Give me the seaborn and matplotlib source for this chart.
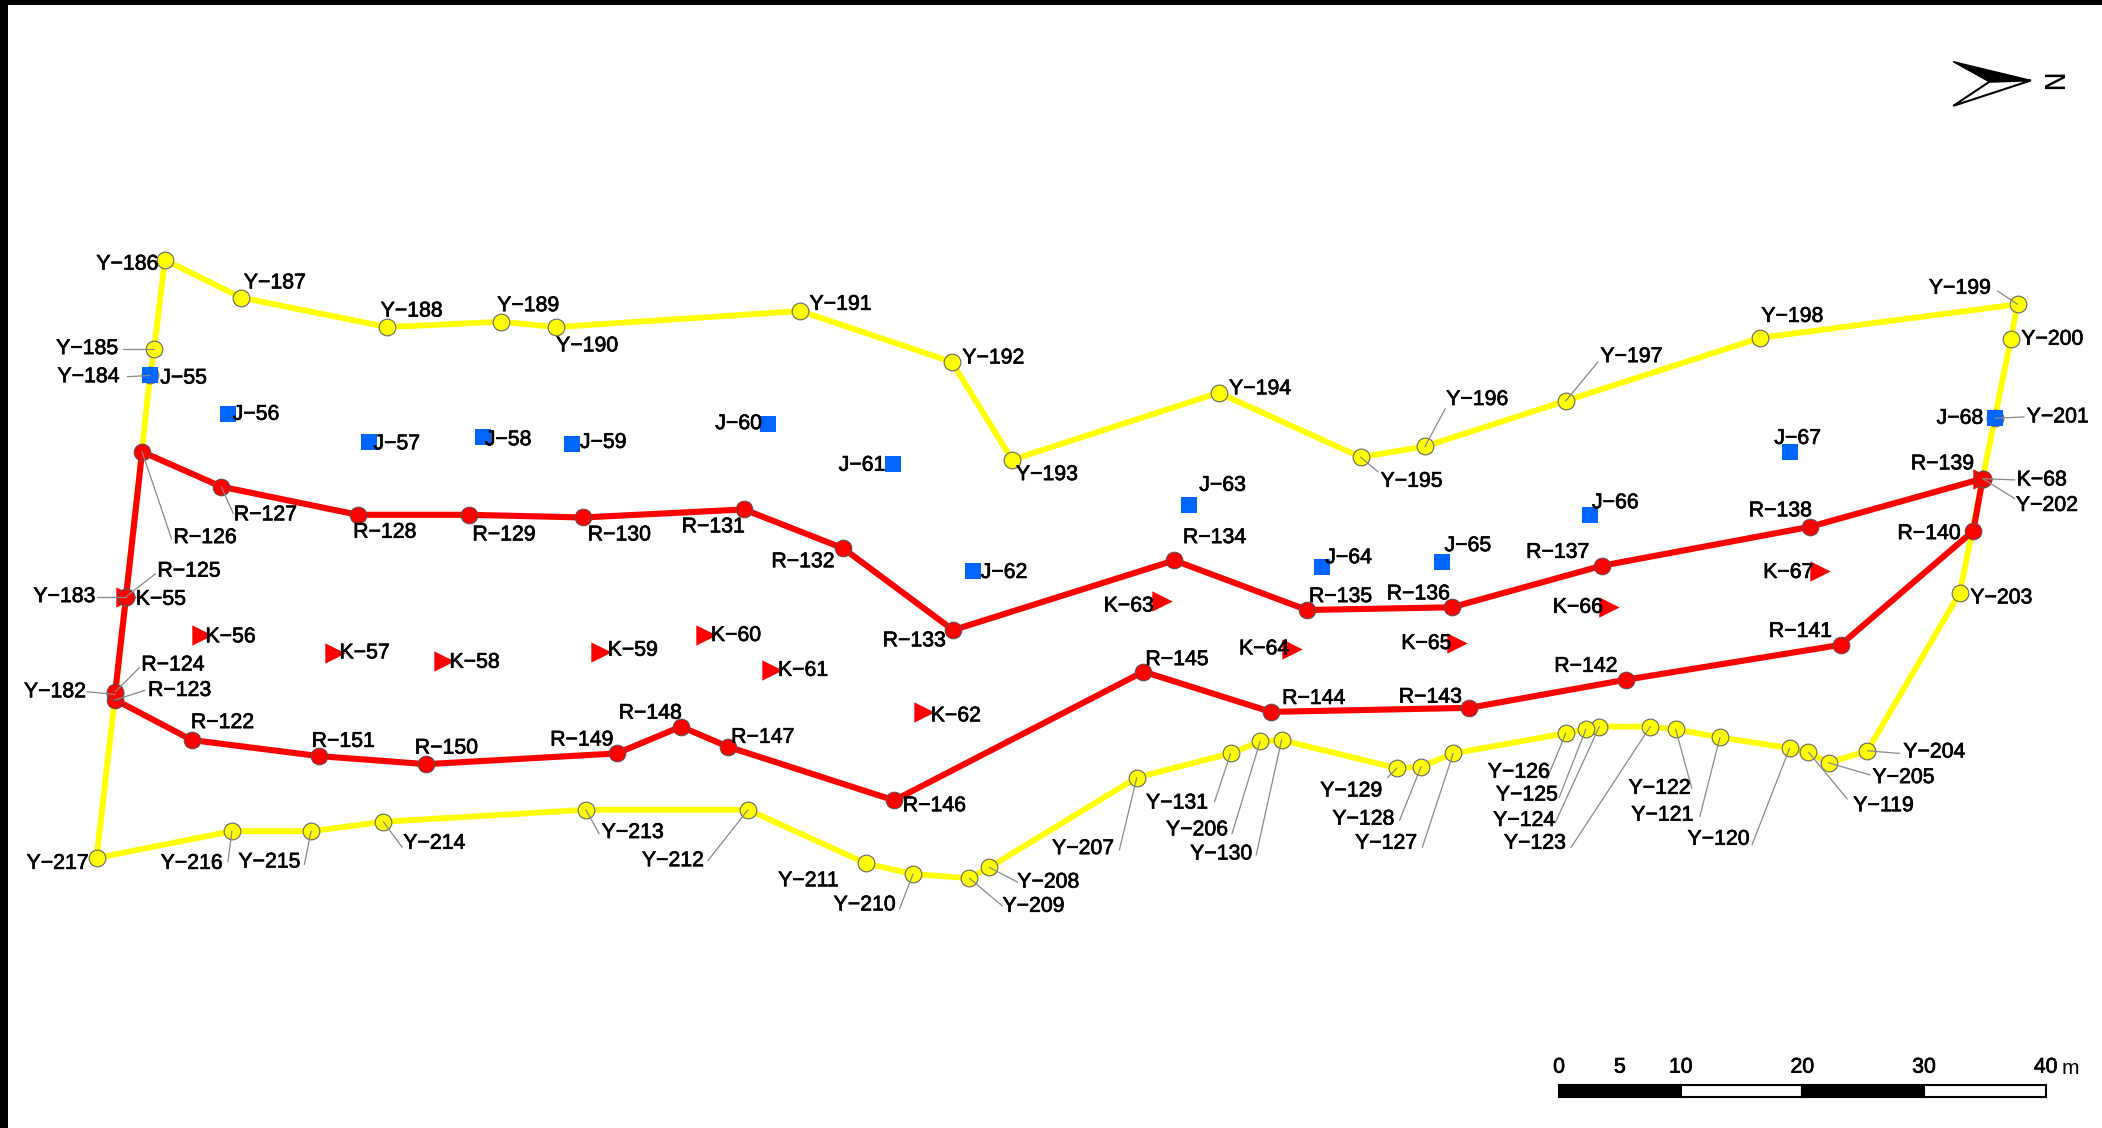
import matplotlib
matplotlib.use('Agg')
import matplotlib.pyplot as plt
import matplotlib.patheffects as pe
import pandas as pd
import seaborn as sns

# survey points, map units
y_names = ['Y-186', 'Y-187', 'Y-188', 'Y-189', 'Y-190', 'Y-191', 'Y-192', 'Y-193', 'Y-194', 'Y-195',
           'Y-196', 'Y-197', 'Y-198', 'Y-199', 'Y-200', 'Y-201', 'Y-202', 'Y-203', 'Y-204', 'Y-205',
           'Y-119', 'Y-120', 'Y-121', 'Y-122', 'Y-123', 'Y-124', 'Y-125', 'Y-126', 'Y-127', 'Y-128',
           'Y-129', 'Y-130', 'Y-206', 'Y-131', 'Y-207', 'Y-208', 'Y-209', 'Y-210', 'Y-211', 'Y-212',
           'Y-213', 'Y-214', 'Y-215', 'Y-216', 'Y-217', 'Y-182', 'Y-183', 'Y-184', 'Y-185']
y_east = [123, 180, 289, 374, 415, 597, 710, 755, 909, 1015,
          1063, 1168, 1313, 1505, 1500, 1488, 1479, 1462, 1393, 1364,
          1349, 1335, 1283, 1250, 1231, 1193, 1183, 1168, 1084, 1060,
          1042, 956, 940, 918, 848, 738, 723, 681, 646, 558,
          437, 286, 232, 173, 72, 86, 94, 112, 115]
y_north = [194, 222, 244, 240, 244, 232, 270, 343, 293, 341,
           333, 299, 252, 227, 253, 312, 357, 442, 560, 569,
           561, 558, 550, 544, 542, 542, 544, 547, 562, 572,
           573, 552, 553, 562, 580, 647, 655, 652, 644, 604,
           604, 613, 620, 620, 640, 518, 445, 280, 260]

r_names = ['R-126', 'R-127', 'R-128', 'R-129', 'R-130', 'R-131', 'R-132', 'R-133', 'R-134', 'R-135',
           'R-136', 'R-137', 'R-138', 'R-139', 'R-140', 'R-141', 'R-142', 'R-143', 'R-144', 'R-145',
           'R-146', 'R-147', 'R-148', 'R-149', 'R-150', 'R-151', 'R-122', 'R-123', 'R-124', 'R-125']
r_east = [106, 165, 267, 350, 435, 555, 629, 711, 876, 975,
          1083, 1195, 1350, 1479, 1472, 1373, 1213, 1096, 948, 853,
          667, 543, 508, 460, 318, 238, 143, 86, 86, 94]
r_north = [337, 363, 384, 384, 386, 380, 409, 470, 418, 455,
           453, 422, 393, 357, 396, 481, 507, 528, 531, 501,
           597, 557, 542, 562, 570, 564, 552, 522, 516, 445]

j_names = ['J-55', 'J-56', 'J-57', 'J-58', 'J-59', 'J-60', 'J-61', 'J-62', 'J-63', 'J-64', 'J-65', 'J-66', 'J-67', 'J-68']
j_east = [112, 170, 275, 360, 427, 573, 666, 726, 887, 986, 1076, 1186, 1335, 1488]
j_north = [280, 309, 330, 326, 331, 316, 346, 426, 377, 423, 419, 384, 337, 312]

k_names = ['K-55', 'K-56', 'K-57', 'K-58', 'K-59', 'K-60', 'K-61', 'K-62', 'K-63', 'K-64', 'K-65', 'K-66', 'K-67', 'K-68']
k_east = [94, 151, 250, 331, 448, 527, 576, 689, 867, 964, 1087, 1200, 1358, 1479]
k_north = [445, 474, 487, 493, 486, 474, 500, 531, 448, 484, 480, 453, 426, 357]

scale_ticks = [0, 5, 10, 20, 30, 40]

# where the labels sit
label_pos = {
    'Y-186': (95, 197), 'Y-187': (205, 211), 'Y-188': (307, 232), 'Y-189': (394, 228), 'Y-190': (438, 258),
    'Y-191': (627, 227), 'Y-192': (741, 267), 'Y-193': (781, 354), 'Y-194': (940, 290), 'Y-195': (1053, 359),
    'Y-196': (1102, 298), 'Y-197': (1217, 266), 'Y-198': (1337, 236), 'Y-199': (1462, 215), 'Y-200': (1531, 253),
    'Y-201': (1535, 311), 'Y-202': (1527, 377), 'Y-203': (1493, 446), 'Y-204': (1443, 561), 'Y-205': (1420, 580),
    'Y-119': (1405, 601), 'Y-120': (1282, 626), 'Y-121': (1240, 608), 'Y-122': (1238, 588), 'Y-123': (1145, 629),
    'Y-124': (1137, 612), 'Y-125': (1139, 593), 'Y-126': (1133, 576), 'Y-127': (1034, 629), 'Y-128': (1017, 611),
    'Y-129': (1008, 590), 'Y-130': (911, 637), 'Y-206': (893, 619), 'Y-131': (878, 599), 'Y-207': (808, 633),
    'Y-208': (782, 658), 'Y-209': (771, 676), 'Y-210': (645, 675), 'Y-211': (603, 657), 'Y-212': (502, 642),
    'Y-213': (472, 621), 'Y-214': (324, 629), 'Y-215': (201, 643), 'Y-216': (143, 644), 'Y-217': (43, 644),
    'Y-182': (41, 516), 'Y-183': (48, 445), 'Y-184': (66, 281), 'Y-185': (65, 260),
    'R-122': (166, 539), 'R-123': (134, 515), 'R-124': (129, 496), 'R-125': (141, 426), 'R-126': (153, 401),
    'R-127': (198, 384), 'R-128': (287, 397), 'R-129': (376, 399), 'R-130': (462, 399), 'R-131': (532, 393),
    'R-132': (599, 419), 'R-133': (682, 478), 'R-134': (906, 401), 'R-135': (1000, 445), 'R-136': (1058, 443),
    'R-137': (1162, 412), 'R-138': (1328, 381), 'R-139': (1449, 346), 'R-140': (1439, 398), 'R-141': (1343, 471),
    'R-142': (1183, 497), 'R-143': (1067, 520), 'R-144': (980, 521), 'R-145': (878, 492), 'R-146': (697, 601),
    'R-147': (569, 550), 'R-148': (485, 532), 'R-149': (434, 552), 'R-150': (333, 558), 'R-151': (256, 553),
    'J-55': (137, 282), 'J-56': (191, 309), 'J-57': (296, 331), 'J-58': (379, 328), 'J-59': (450, 330),
    'J-60': (551, 316), 'J-61': (643, 347), 'J-62': (749, 427), 'J-63': (912, 362), 'J-64': (1006, 416),
    'J-65': (1095, 407), 'J-66': (1205, 375), 'J-67': (1341, 327), 'J-68': (1462, 312),
    'K-55': (120, 447), 'K-56': (172, 475), 'K-57': (272, 487), 'K-58': (354, 494), 'K-59': (472, 485),
    'K-60': (549, 474), 'K-61': (599, 500), 'K-62': (713, 534), 'K-63': (842, 452), 'K-64': (943, 484),
    'K-65': (1064, 480), 'K-66': (1177, 453), 'K-67': (1334, 427), 'K-68': (1523, 358),
}

# leader lines: point name -> free end of the line
leaders = {
    'Y-185': (92, 260), 'Y-184': (95, 281), 'Y-183': (72, 445), 'Y-182': (65, 516), 'R-125': (116, 428),
    'R-126': (128, 402), 'R-127': (174, 383), 'R-124': (104, 498), 'R-123': (108, 515), 'Y-199': (1490, 217),
    'Y-196': (1078, 305), 'Y-197': (1192, 270), 'Y-195': (1028, 352), 'Y-202': (1503, 372), 'K-68': (1503, 358),
    'Y-201': (1510, 311), 'Y-204': (1417, 562), 'Y-205': (1395, 578), 'Y-119': (1378, 596), 'Y-120': (1307, 630),
    'Y-121': (1268, 609), 'Y-122': (1262, 588), 'Y-123': (1172, 632), 'Y-124': (1160, 614), 'Y-125': (1163, 595),
    'Y-126': (1154, 581), 'Y-127': (1061, 632), 'Y-128': (1044, 612), 'Y-129': (1035, 580), 'Y-130': (937, 638),
    'Y-206': (919, 622), 'Y-131': (906, 598), 'Y-207': (835, 634), 'Y-208': (759, 658), 'Y-209': (748, 676),
    'Y-210': (671, 678), 'Y-212': (528, 642), 'Y-213': (447, 622), 'Y-214': (300, 632), 'Y-215': (227, 645),
    'Y-216': (170, 643),
}

YELLOW = '#ffff00'
RED = '#ff0000'
BLUE = '#0066ff'

sns.set_theme(style='white')
plt.rcParams['font.family'] = ['Liberation Sans', 'DejaVu Sans']

df_y = pd.DataFrame({'name': y_names, 'east': y_east, 'north': y_north})
df_r = pd.DataFrame({'name': r_names, 'east': r_east, 'north': r_north})
df_j = pd.DataFrame({'name': j_names, 'east': j_east, 'north': j_north})
df_k = pd.DataFrame({'name': k_names, 'east': k_east, 'north': k_north})

# both traverses are closed loops
loop_y = pd.concat([df_y, df_y.iloc[[0]]], ignore_index=True)
loop_r = pd.concat([df_r, df_r.iloc[[0]]], ignore_index=True)

fig = plt.figure(figsize=(21.02, 11.28), dpi=100)
ax = fig.add_axes([0, 0, 1, 1])

sns.lineplot(data=loop_y, x='east', y='north', sort=False, estimator=None, color=YELLOW, lw=4.2, ax=ax, zorder=2)
sns.lineplot(data=loop_r, x='east', y='north', sort=False, estimator=None, color=RED, lw=4.4, ax=ax, zorder=3)

coords = {}
for d in (df_y, df_r, df_j, df_k):
    coords.update(zip(d['name'], zip(d['east'], d['north'])))

sns.scatterplot(data=df_y, x='east', y='north', color=YELLOW, s=145, edgecolor='#666666', linewidth=0.8, ax=ax, zorder=4)
sns.scatterplot(data=df_j, x='east', y='north', color=BLUE, marker='s', s=130, linewidth=0, ax=ax, zorder=5)
sns.scatterplot(data=df_k, x='east', y='north', color=RED, marker='>', s=215, linewidth=0, ax=ax, zorder=5)
sns.scatterplot(data=df_r, x='east', y='north', color=RED, s=145, edgecolor='#555555', linewidth=0.7, ax=ax, zorder=6)

for name, end in leaders.items():
    x0, y0 = coords[name]
    ax.plot([x0, end[0]], [y0, end[1]], color='#888888', lw=0.9, zorder=7)

# thin stroke gives the heavier look of the source lettering
heavy = [pe.withStroke(linewidth=0.5, foreground='black')]

for name, (tx, ty) in label_pos.items():
    ax.text(tx, ty, name.replace('-', '\u2212'), ha='center', va='center', fontsize=15.3, color='black',
            zorder=8, path_effects=heavy)

# scale bar
bar_x0, bar_k = 1163, 363 / 40
bar_top, bar_h = 809, 9
for i in range(0, 40, 10):
    ax.add_patch(plt.Rectangle((bar_x0 + i * bar_k, bar_top), 10 * bar_k, bar_h,
                               fc='black' if i % 20 == 0 else 'white', ec='black', lw=1.5, zorder=3))
for t in scale_ticks:
    ax.text(bar_x0 + t * bar_k, 796, str(t), ha='center', va='center', fontsize=15.3, color='black', path_effects=heavy)
ax.text(1544, 797, 'm', ha='center', va='center', fontsize=15, color='black')

# north arrow
ax.fill([1457, 1515, 1484], [46, 60, 61], color='black', zorder=3)
ax.fill([1457, 1515, 1484], [79, 60, 61], fc='white', ec='black', lw=1.5, zorder=3)
ax.text(1528, 62, 'N', rotation=-90, ha='center', va='center', fontsize=19, family='DejaVu Sans', color='black')

# black border of the source image
ax.axhspan(0, 4, color='black', lw=0)
ax.axvspan(0, 6, color='black', lw=0)

ax.set_xlim(0, 1568)
ax.set_ylim(841.4, 0)
ax.axis('off')

fig.savefig('out.png', dpi=100)
